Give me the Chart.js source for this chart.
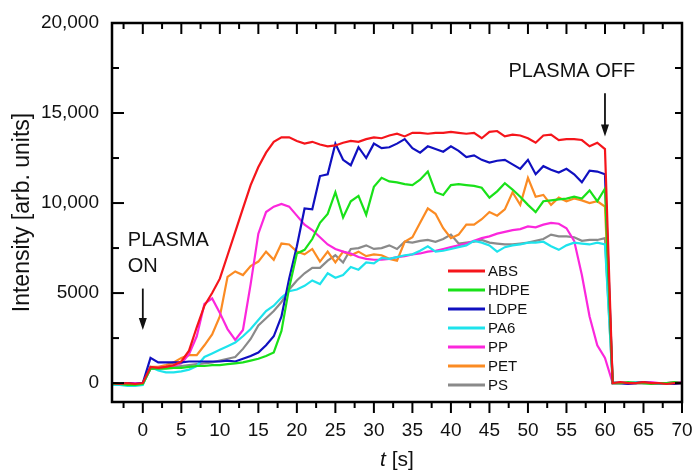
<!DOCTYPE html>
<html>
<head>
<meta charset="utf-8">
<script src="https://cdn.jsdelivr.net/npm/chart.js@4.4.0/dist/chart.umd.min.js"></script>
<style>
  html, body { margin: 0; padding: 0; background: #fff; }
  #wrap { width: 695px; height: 470px; }
</style>
</head>
<body>
<div id="wrap"><canvas id="chart" width="695" height="470"></canvas></div>
<script>
// time axis [s]
const times = [-4, -3, -2, -1, 0, 1, 2, 3, 4, 5, 6, 7, 8, 9, 10, 11, 12, 13, 14, 15, 16, 17, 18, 19, 20,
  21, 22, 23, 24, 25, 26, 27, 28, 29, 30, 31, 32, 33, 34, 35, 36, 37, 38, 39, 40,
  41, 42, 43, 44, 45, 46, 47, 48, 49, 50, 51, 52, 53, 54, 55, 56, 57, 58, 59, 60,
  61, 62, 63, 64, 65, 66, 67, 68, 69, 70];

const absValues = [0, -50, 0, -50, 0,
  900, 850, 900, 1000, 1200, 1800, 3100, 4300, 5000, 5800,
  7100, 8400, 9700, 11000, 12000, 12800, 13400, 13650, 13650, 13450,
  13300, 13400, 13250, 13150, 13200, 13350, 13450, 13400, 13550, 13650,
  13600, 13750, 13850, 13700, 13900, 13900, 13850, 13900, 13900, 13950,
  13900, 13850, 13900, 13600, 13950, 14000, 13700, 13800, 13750, 13600,
  13350, 13750, 13800, 13500, 13550, 13550, 13500, 13150, 13350, 13000,
  0, 50, 0, 0, 50, 0, 0, -50, 0, 0];

const hdpeValues = [-50, -50, -100, -100, -50,
  800, 800, 800, 850, 850, 900, 950, 950, 1000, 1000,
  1050, 1100, 1150, 1250, 1350, 1500, 1700, 2900, 5300, 7200,
  7400, 8000, 8900, 9400, 10600, 9200, 10100, 10400, 9350, 10900,
  11400, 11200, 11150, 11050, 11000, 11300, 11750, 10600, 10450, 11000,
  11050, 11000, 10950, 10850, 10300, 10650, 11100, 10750, 10350, 9900,
  9500, 10100, 10150, 10200, 10250, 10350, 10250, 10700, 10100, 10800,
  0, 0, 50, 0, 0, -50, 0, 0, 50, 0];

const ldpeValues = [0, -50, 0, -50, 0,
  1400, 1150, 1150, 1150, 1150, 1200, 1200, 1200, 1200, 1200,
  1250, 1200, 1350, 1500, 1700, 2100, 2600, 3700, 5800, 7600,
  9700, 9650, 11500, 11600, 13300, 12400, 12100, 13100, 12500, 13300,
  13050, 13100, 13300, 13550, 13050, 12800, 13150, 13000, 12850, 13150,
  12900, 12550, 12650, 12400, 12250, 12350, 12400, 12150, 11900, 12400,
  11600, 12050, 11850, 11700, 11900, 11600, 11150, 11800, 11750, 11600,
  0, 0, -50, 0, 50, 0, 0, 0, -50, 0];

const pa6Values = [-100, -100, -150, -150, -100,
  900, 700, 600, 600, 650, 750, 950, 1450, 1650, 1850,
  2050, 2250, 2600, 3000, 3500, 4000, 4300, 4750, 5100, 5200,
  5400, 5700, 5500, 6100, 5850, 6000, 6450, 6300, 6700, 6650,
  6950, 6900, 7000, 7100, 7150, 7350, 7600, 7300, 7350, 7450,
  7550, 7650, 7900, 7800, 7650, 7300, 7550, 7650, 7700, 7800,
  7800, 7850, 7600, 7400, 7650, 7800, 7750, 7700, 7800, 7700,
  50, 0, 0, 50, 0, 0, -50, 0, 0, 0];

const ppValues = [0, -50, 0, 0, 0,
  800, 850, 900, 950, 1100, 1600, 2600, 4400, 4700, 3900,
  3000, 2400, 2950, 5500, 8300, 9500, 9800, 9950, 9800, 9300,
  8800, 8500, 8100, 7700, 7450, 7300, 7200, 7000, 6900, 6850,
  6850, 6900, 7000, 7050, 7150, 7200, 7300, 7350, 7450, 7550,
  7650, 7750, 7900, 8050, 8150, 8300, 8400, 8500, 8550, 8700,
  8650, 8800, 8900, 8850, 8600, 7900, 6000, 3700, 2100, 1400,
  0, 50, 0, 0, 0, 50, 0, 0, 50, 50];

const petValues = [0, -50, 0, -50, 0,
  900, 900, 1000, 1150, 1400, 1550, 1550, 2100, 2700, 3700,
  5900, 6200, 6000, 6500, 6750, 7300, 6850, 7750, 7700, 7300,
  7150, 7450, 6750, 7300, 6700, 7300, 7100, 7300, 7050, 7150,
  7100, 6900, 6800, 7850, 8100, 8900, 9700, 9400, 8600, 8050,
  8250, 8800, 8800, 9100, 9500, 9300, 9650, 10600, 9900, 11400,
  10350, 10450, 9900, 10300, 10100, 10250, 10150, 10000, 10100, 9800,
  0, 0, 0, 50, 0, 0, 0, 0, 0, 0];

const psValues = [0, -50, 0, 0, -50,
  800, 800, 850, 900, 950, 1000, 1050, 1100, 1150, 1250,
  1350, 1450, 1900, 2450, 3200, 3600, 4000, 4500, 5200, 5700,
  6100, 6400, 6400, 6800, 7100, 6700, 7450, 7500, 7650, 7450,
  7500, 7650, 7450, 7850, 7800, 7900, 7950, 7850, 8000, 8250,
  7750, 7800, 7850, 7950, 7800, 7750, 7700, 7700, 7750, 7800,
  7900, 8000, 8250, 8150, 8150, 8100, 7900, 7950, 7950, 8050,
  0, 0, 0, 0, 0, 0, 0, 0, 0, 0];

const seriesNames = ['ABS', 'HDPE', 'LDPE', 'PA6', 'PP', 'PET', 'PS'];
const seriesValues = [absValues, hdpeValues, ldpeValues, pa6Values, ppValues, petValues, psValues];
const seriesColors = ['#f5151b', '#19e119', '#1010c0', '#1ee3ec', '#fb27dc', '#fb8b23', '#8a8a8a'];

const xTicks = [0, 5, 10, 15, 20, 25, 30, 35, 40, 45, 50, 55, 60, 65, 70];
const yTicks = [0, 5000, 10000, 15000, 20000];
const yTickLabels = ['0', '5000', '10,000', '15,000', '20,000'];

const FONT = '"Liberation Sans", Arial, Helvetica, sans-serif';

// draw the box, inward/outward ticks, legend and plasma notes
const frameAndNotes = {
  id: 'frameAndNotes',
  afterDraw(chart) {
    const ctx = chart.ctx;
    const a = chart.chartArea;
    const xs = chart.scales.x;
    const ys = chart.scales.y;

    function seg(x1, y1, x2, y2) {
      ctx.beginPath();
      ctx.moveTo(x1, y1);
      ctx.lineTo(x2, y2);
      ctx.stroke();
    }

    ctx.save();
    ctx.strokeStyle = '#000';
    ctx.lineWidth = 2.5;
    ctx.strokeRect(a.left, a.top, a.right - a.left, a.bottom - a.top);

    ctx.lineWidth = 2;
    for (let t = -2.5; t <= 70; t += 2.5) {
      const px = xs.getPixelForValue(t);
      const major = t % 5 === 0;
      seg(px, a.bottom, px, a.bottom + (major ? 11 : 6));
      seg(px, a.top, px, a.top + (major ? 11 : 6));
    }
    for (let v = 0; v < 20000; v += 2500) {
      const py = ys.getPixelForValue(v);
      const major = v % 5000 === 0;
      seg(a.left, py, a.left + (major ? 12 : 7), py);
      seg(a.right, py, a.right - 7, py);
    }

    // legend
    ctx.font = '15px ' + FONT;
    ctx.textBaseline = 'middle';
    ctx.textAlign = 'left';
    const lx = a.left + 336;
    let ly = a.top + 248;
    seriesNames.forEach(function (name, i) {
      ctx.strokeStyle = seriesColors[i];
      ctx.lineWidth = 3;
      seg(lx, ly, lx + 37, ly);
      ctx.fillStyle = '#111';
      ctx.fillText(name, lx + 40, ly + 1);
      ly += 19;
    });

    // plasma on / off notes
    ctx.fillStyle = '#111';
    ctx.strokeStyle = '#111';
    ctx.lineWidth = 1.8;
    ctx.font = '20px ' + FONT;
    ctx.textAlign = 'left';
    const x0 = xs.getPixelForValue(0);
    ctx.fillText('PLASMA', x0 - 15, ys.getPixelForValue(7900));
    ctx.fillText('ON', x0 - 15, ys.getPixelForValue(6450));
    drawArrow(x0, ys.getPixelForValue(5250), ys.getPixelForValue(2950));

    const x60 = xs.getPixelForValue(60);
    ctx.textAlign = 'center';
    ctx.fillText('PLASMA OFF', xs.getPixelForValue(55.7), ys.getPixelForValue(17320));
    drawArrow(x60, ys.getPixelForValue(16100), ys.getPixelForValue(13700));

    function drawArrow(x, yFrom, yTo) {
      seg(x, yFrom, x, yTo - 10);
      ctx.beginPath();
      ctx.moveTo(x - 4, yTo - 12);
      ctx.lineTo(x + 4, yTo - 12);
      ctx.lineTo(x, yTo);
      ctx.closePath();
      ctx.fill();
    }

    // x axis title with italic t
    ctx.textAlign = 'left';
    ctx.textBaseline = 'middle';
    ctx.font = 'italic 21px ' + FONT;
    const tW = ctx.measureText('t').width;
    ctx.font = '21px ' + FONT;
    const restW = ctx.measureText(' [s]').width;
    const cx = (a.left + a.right) / 2;
    const ty = 460;
    ctx.font = 'italic 21px ' + FONT;
    ctx.fillText('t', cx - (tW + restW) / 2, ty);
    ctx.font = '21px ' + FONT;
    ctx.fillText(' [s]', cx - (tW + restW) / 2 + tW, ty);
    ctx.restore();
  }
};

const datasets = seriesNames.map(function (name, i) {
  return {
    label: name,
    data: times.map(function (t, j) { return { x: t, y: seriesValues[i][j] }; }),
    borderColor: seriesColors[i],
    borderWidth: 2.2,
    pointRadius: 0,
    tension: 0,
    fill: false
  };
});

new Chart(document.getElementById('chart'), {
  type: 'line',
  data: { datasets: datasets },
  options: {
    responsive: false,
    animation: false,
    devicePixelRatio: 1,
    layout: { padding: { left: 0, right: 13, top: 23, bottom: 0 } },
    plugins: {
      legend: { display: false },
      tooltip: { enabled: false }
    },
    scales: {
      x: {
        type: 'linear',
        min: -4,
        max: 70,
        afterFit: function (scale) {
          scale.height = 68;
          scale.paddingLeft = 0;
          scale.paddingRight = 0;
        },
        afterBuildTicks: function (scale) {
          scale.ticks = xTicks.map(function (v) { return { value: v }; });
        },
        grid: { display: false, drawTicks: false },
        border: { display: false },
        ticks: {
          color: '#111',
          padding: 17,
          maxRotation: 0,
          font: { size: 19, family: FONT }
        }
      },
      y: {
        type: 'linear',
        min: -1050,
        max: 20000,
        afterFit: function (scale) {
          scale.width = 112;
          scale.paddingTop = 0;
          scale.paddingBottom = 0;
        },
        afterBuildTicks: function (scale) {
          scale.ticks = yTicks.map(function (v) { return { value: v }; });
        },
        grid: { display: false, drawTicks: false },
        border: { display: false },
        title: {
          display: true,
          text: 'Intensity [arb. units]',
          color: '#111',
          padding: { top: 9, bottom: 0 },
          font: { size: 23, family: FONT }
        },
        ticks: {
          color: '#111',
          padding: 13,
          font: { size: 19, family: FONT },
          callback: function (value) {
            const k = yTicks.indexOf(value);
            return k >= 0 ? yTickLabels[k] : '';
          }
        }
      }
    }
  },
  plugins: [frameAndNotes]
});
</script>
</body>
</html>
